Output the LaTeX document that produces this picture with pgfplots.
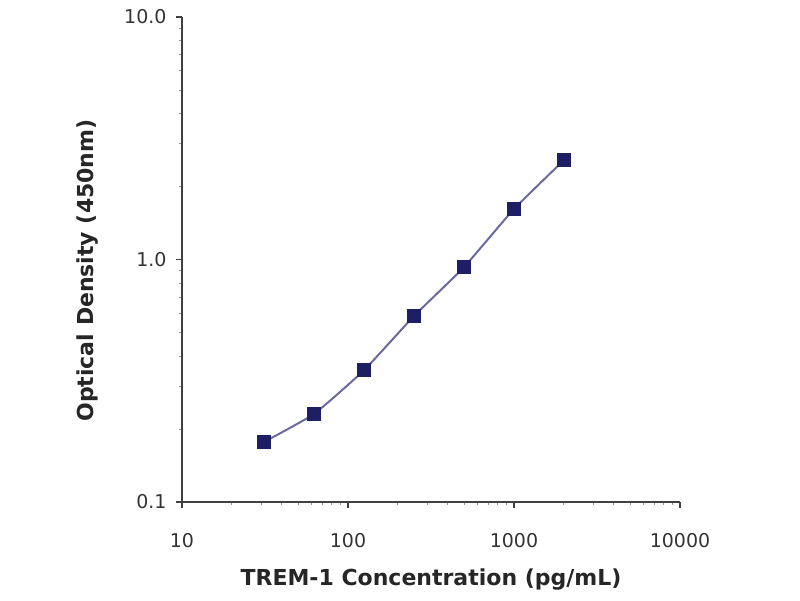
\documentclass[border=0pt]{standalone}
\usepackage{pgfplots}
\pgfplotsset{compat=1.18}
\usepackage{fontspec}
\setmainfont{DejaVu Sans}
\definecolor{mk}{HTML}{1E1E64}
\definecolor{ln}{HTML}{6A6AA0}
\begin{document}
\begin{tikzpicture}[x=1pt,y=1pt]
\path[use as bounding box] (0,0) rectangle (800,600);
\begin{axis}[
  at={(182pt,98pt)}, anchor=south west,
  width=498pt, height=485pt, scale only axis,
  xmode=log, ymode=log,
  xmin=10, xmax=10000, ymin=0.1, ymax=10,
  axis x line*=bottom, axis y line*=left,
  axis line style={line width=1.6pt, draw=black!75, -},
  xtick={10,100,1000,10000}, xticklabels={10,100,1000,10000},
  ytick={0.1,1,10}, yticklabels={0.1,1.0,10.0},
  minor xtick={20,30,40,50,60,70,80,90,200,300,400,500,600,700,800,900,2000,3000,4000,5000,6000,7000,8000,9000},
  minor ytick={0.2,0.3,0.4,0.5,0.6,0.7,0.8,0.9,2,3,4,5,6,7,8,9},
  tick align=outside,
  major tick length=6pt, minor tick length=3pt,
  tick style={line width=1.6pt, draw=black!75},
  minor tick style={line width=1pt, draw=black!40},
  xticklabel style={font=\fontsize{19}{22}\selectfont, text=black!80, yshift=-22pt},
  yticklabel style={font=\fontsize{19}{22}\selectfont, text=black!80, xshift=-6pt},
  xlabel={\textbf{TREM-1 Concentration (pg/mL)}},
  ylabel={\textbf{Optical Density (450nm)}},
  xlabel style={font=\fontsize{22}{26}\selectfont, text=black!85, at={(axis description cs:0.5,0)}, anchor=center, yshift=-78pt},
  ylabel style={font=\fontsize{22}{26}\selectfont, text=black!85, at={(axis description cs:0,0.5)}, anchor=center, rotate=0, xshift=-11pt, yshift=94pt},
  clip=false,
]
\addplot[color=ln, line width=2pt, smooth, tension=0.3, mark=square*, mark size=6pt, mark options={fill=mk, draw=mk}]
coordinates {
(31.25,0.177)
(62.5,0.231)
(125,0.350)
(250,0.585)
(500,0.931)
(1000,1.615)
(2000,2.57)
};
\end{axis}
\end{tikzpicture}
\end{document}
